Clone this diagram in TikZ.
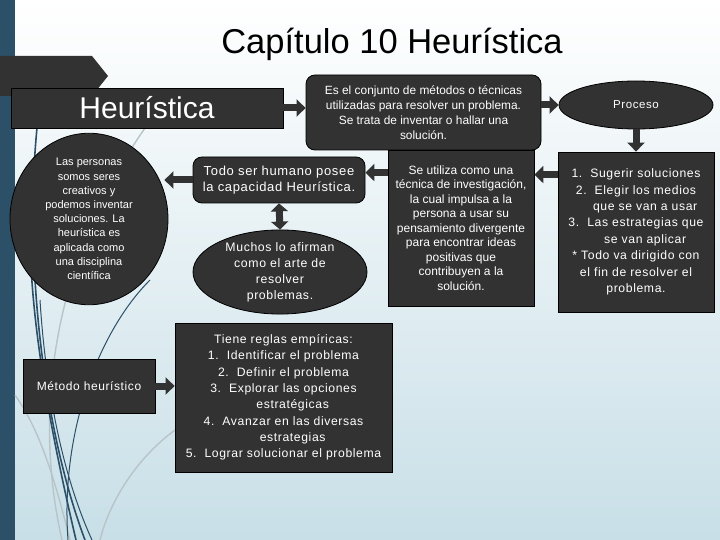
\documentclass[tikz,border=0pt]{standalone}
\usepackage{fontspec}
\setmainfont{Liberation Sans}
\newfontfamily\plainf{Liberation Sans}
\newfontfamily\widef{Liberation Sans}[LetterSpace=5]
\usetikzlibrary{shapes.geometric,arrows.meta,calc}
\definecolor{boxgray}{RGB}{50,50,50}
\definecolor{teal}{RGB}{43,80,104}
\definecolor{lgray}{RGB}{185,196,200}
\definecolor{bgblue}{RGB}{200,223,231}
\tikzset{
  darkbox/.style={draw=black, line width=0.8pt, fill=boxgray, text=white, align=center, inner sep=2pt},
  roundbox/.style={darkbox, rounded corners=9pt},
  ovalbox/.style={darkbox, ellipse, inner sep=0pt},
  blk/.style={line width=7pt, draw=boxgray, -{Triangle[length=9pt,width=17pt]}},
  dblk/.style={line width=7pt, draw=boxgray, {Triangle[length=8pt,width=17pt]}-{Triangle[length=8pt,width=17pt]}},
  deco/.style={line width=1.6pt, draw=teal},
  decothin/.style={line width=1pt, draw=teal},
  decogray/.style={line width=1.4pt, draw=lgray}
}
\begin{document}
\begin{tikzpicture}[x=1pt,y=-1pt]
\useasboundingbox (0,0) rectangle (720,540);
% background
\shade[top color=white, bottom color=bgblue] (0,0) rectangle (720,540);
\fill[teal] (0,0) rectangle (15,540);
% decorative curves
\draw[decogray] (145,128) .. controls (60,250) and (30,400) .. (62,540);
\draw[decogray] (15,395) .. controls (40,430) and (55,480) .. (70,540);
\draw[decogray] (190,420) .. controls (140,450) and (110,500) .. (100,540);
\draw[deco] (37,128) .. controls (25,250) and (40,420) .. (85,540);
\draw[deco] (30,230) .. controls (30,330) and (55,450) .. (76,540);
\draw[decothin] (150,280) .. controls (100,330) and (60,430) .. (68,540);
\draw[decothin] (40,300) .. controls (45,380) and (60,470) .. (92,540);
% top-left chevron
\fill[boxgray] (0,56) -- (92,56) -- (108,76) -- (92,96) -- (0,96) -- cycle;
% title
\node[font=\fontsize{34.5}{38}\selectfont, text=black] (title) at (392,44) {Capítulo 10 Heurística};
% nodes
\node[darkbox, minimum width=272pt, minimum height=40pt, font=\fontsize{30}{32}\selectfont] (heur) at (147,108) {Heurística};
\node[roundbox, minimum width=235pt, minimum height=75pt, font=\fontsize{11.9}{15}\selectfont] (conj) at (423.5,112.5)
  {Es el conjunto de métodos o técnicas\\utilizadas para resolver un problema.\\Se trata de inventar o hallar una\\solución.};
\node[ovalbox, minimum width=154pt, minimum height=48pt, font=\fontsize{11.5}{14}\selectfont\widef] (proc) at (636,105) {Proceso};
\node[darkbox, minimum width=156pt, minimum height=160pt, font=\fontsize{12.2}{16.4}\selectfont\widef] (lista) at (636,232)
  {1.\ \ Sugerir soluciones\\2.\ \ Elegir los medios\\\hspace*{1.5em}que se van a usar\\3.\ \ Las estrategias que\\\hspace*{1.5em}se van aplicar\\* Todo va dirigido con\\el fin de resolver el\\problema.};
\node[darkbox, minimum width=146pt, minimum height=156pt, font=\fontsize{12}{14.5}\selectfont] (seutil) at (461,228)
  {Se utiliza como una\\técnica de investigación,\\la cual impulsa a la\\persona a usar su\\pensamiento divergente\\para encontrar ideas\\positivas que\\contribuyen a la\\solución.};
\node[roundbox, minimum width=172pt, minimum height=46pt, font=\fontsize{13}{15.5}\selectfont\widef] (todo) at (279,180)
  {Todo ser humano posee\\la capacidad Heurística.};
\node[ovalbox, minimum width=174pt, minimum height=84pt, font=\fontsize{12.3}{16}\selectfont\widef] (muchos) at (280,272)
  {Muchos lo afirman\\como el arte de\\resolver\\problemas.};
\node[ovalbox, minimum width=158pt, minimum height=142pt, font=\fontsize{11}{14.2}\selectfont] (pers) at (89,219)
  {Las personas\\somos seres\\creativos y\\podemos inventar\\soluciones. La\\heurística es\\aplicada como\\una disciplina\\científica};
\node[darkbox, minimum width=132pt, minimum height=54pt, font=\fontsize{12}{14}\selectfont\widef] (metodo) at (89,386) {Método heurístico};
\node[darkbox, minimum width=217pt, minimum height=149pt, font=\fontsize{12.2}{16.3}\selectfont\widef] (tiene) at (283.5,397.5)
  {Tiene reglas empíricas:\\1.\ \ Identificar el problema\\2.\ \ Definir el problema\\3.\ \ Explorar las opciones\\\hspace*{1.5em}estratégicas\\4.\ \ Avanzar en las diversas\\\hspace*{1.5em}estrategias\\5.\ \ Lograr solucionar el problema};
% connectors
\draw[blk] (heur.east) -- (heur.east -| conj.west);
\draw[blk] (conj.east |- proc.west) -- (proc.west);
\draw[blk] (proc.south) -- (lista.north);
\coordinate (lrow) at ([yshift=-23pt]lista.north west);
\draw[blk] (lrow) -- (lrow -| seutil.east);
\coordinate (srow) at ([yshift=-23pt]seutil.north west);
\draw[blk] (srow) -- (srow -| todo.east);
\coordinate (ptip) at ([xshift=-4pt]pers.east |- todo.west);
\draw[blk] (todo.west) -- (ptip);
\draw[dblk] (todo.south) -- (muchos.north);
\draw[blk] (metodo.east) -- (metodo.east -| tiene.west);
\end{tikzpicture}
\end{document}
